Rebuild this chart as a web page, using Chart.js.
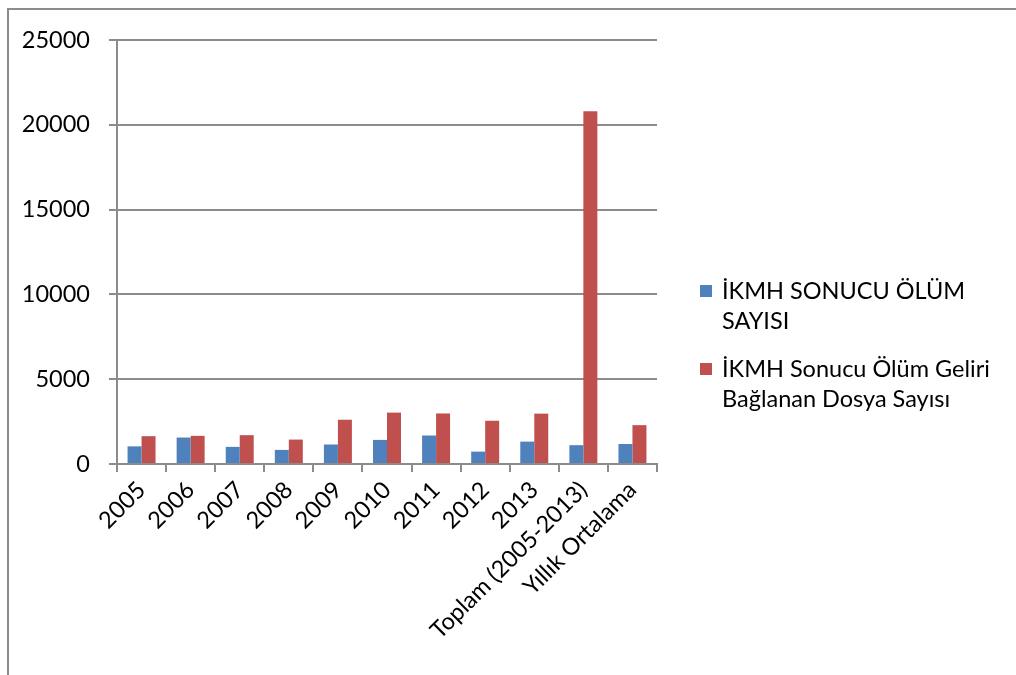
<!DOCTYPE html>
<html>
<head>
<meta charset="utf-8">
<script src="https://cdn.jsdelivr.net/npm/chart.js@4"></script>
<style>
    body { margin: 0; background: #fff; overflow: hidden; }
    #frame { position: absolute; left: 7px; top: 8px; width: 1100px; height: 700px; border-left: 2px solid #8c8c8c; border-top: 2px solid #8c8c8c; }
    #wrap { position: absolute; left: 0; top: 0; width: 1016px; height: 675px; }
    #legend { position: absolute; left: 700px; top: 0; font-family: Lato, sans-serif; font-size: 23.5px; color: #000; }
    .item { position: absolute; left: 0; width: 316px; display: flex; align-items: flex-start; }
    .box { width: 12px; height: 12px; margin-top: 10px; margin-right: 10px; flex: none; }
    .txt { line-height: 30px; white-space: nowrap; }
</style>
</head>
<body>
<div id="frame"></div>
<div id="wrap"><canvas id="chart" width="1016" height="675"></canvas></div>
<div id="legend"></div>
<script>
const categories = ['2005', '2006', '2007', '2008', '2009', '2010', '2011', '2012', '2013', 'Toplam (2005-2013)', 'Yıllık Ortalama'];
const olumSayisi = [1040, 1560, 1010, 830, 1150, 1420, 1680, 730, 1320, 1110, 1180];
const dosyaSayisi = [1640, 1660, 1700, 1440, 2610, 3030, 2980, 2550, 2970, 20800, 2290];
const yTicks = [0, 5000, 10000, 15000, 20000, 25000];

const seriesNames = [['İKMH SONUCU ÖLÜM', 'SAYISI'], ['İKMH Sonucu Ölüm Geliri', 'Bağlanan Dosya Sayısı']];
const seriesColors = ['#4f81bd', '#c0504d'];

// legend as html so the two-line labels wrap like the original
const legend = document.getElementById('legend');
const legendTops = [275, 353];
seriesNames.forEach((lines, i) => {
    const item = document.createElement('div');
    item.className = 'item';
    item.style.top = legendTops[i] + 'px';
    const box = document.createElement('div');
    box.className = 'box';
    box.style.background = seriesColors[i];
    const txt = document.createElement('div');
    txt.className = 'txt';
    txt.innerHTML = lines.join('<br>');
    item.appendChild(box);
    item.appendChild(txt);
    legend.appendChild(item);
});

const gridGray = '#8c8c8c';
const tickFont = { family: 'Lato', size: 23.5 };

const ctx = document.getElementById('chart').getContext('2d');
const chart = new Chart(ctx, {
    type: 'bar',
    data: {
        labels: categories,
        datasets: [
            { label: seriesNames[0].join(' '), data: olumSayisi, backgroundColor: seriesColors[0], categoryPercentage: 0.57, barPercentage: 1 },
            { label: seriesNames[1].join(' '), data: dosyaSayisi, backgroundColor: seriesColors[1], categoryPercentage: 0.57, barPercentage: 1 }
        ]
    },
    options: {
        responsive: false,
        animation: false,
        layout: { padding: { left: 0, right: 359, top: 40, bottom: 0 } },
        plugins: {
            legend: { display: false },
            tooltip: { enabled: false }
        },
        scales: {
            x: {
                grid: { drawOnChartArea: false, drawTicks: true, tickLength: 8, color: gridGray, lineWidth: 2, offset: true },
                border: { color: gridGray, width: 2 },
                ticks: {
                    color: '#000', font: tickFont,
                    minRotation: 45, maxRotation: 45, padding: 4, autoSkip: false
                },
                afterFit: (scale) => { scale.height = 675 - 464; }
            },
            y: {
                min: 0, max: 25000,
                afterBuildTicks: (scale) => { scale.ticks = yTicks.map(v => ({ value: v })); },
                grid: { color: gridGray, lineWidth: 2, tickLength: 8 },
                border: { color: gridGray, width: 2 },
                ticks: { color: '#000', font: tickFont, padding: 19, callback: (v) => String(v) },
                afterFit: (scale) => { scale.width = 117; }
            }
        }
    }
});
</script>
</body>
</html>
